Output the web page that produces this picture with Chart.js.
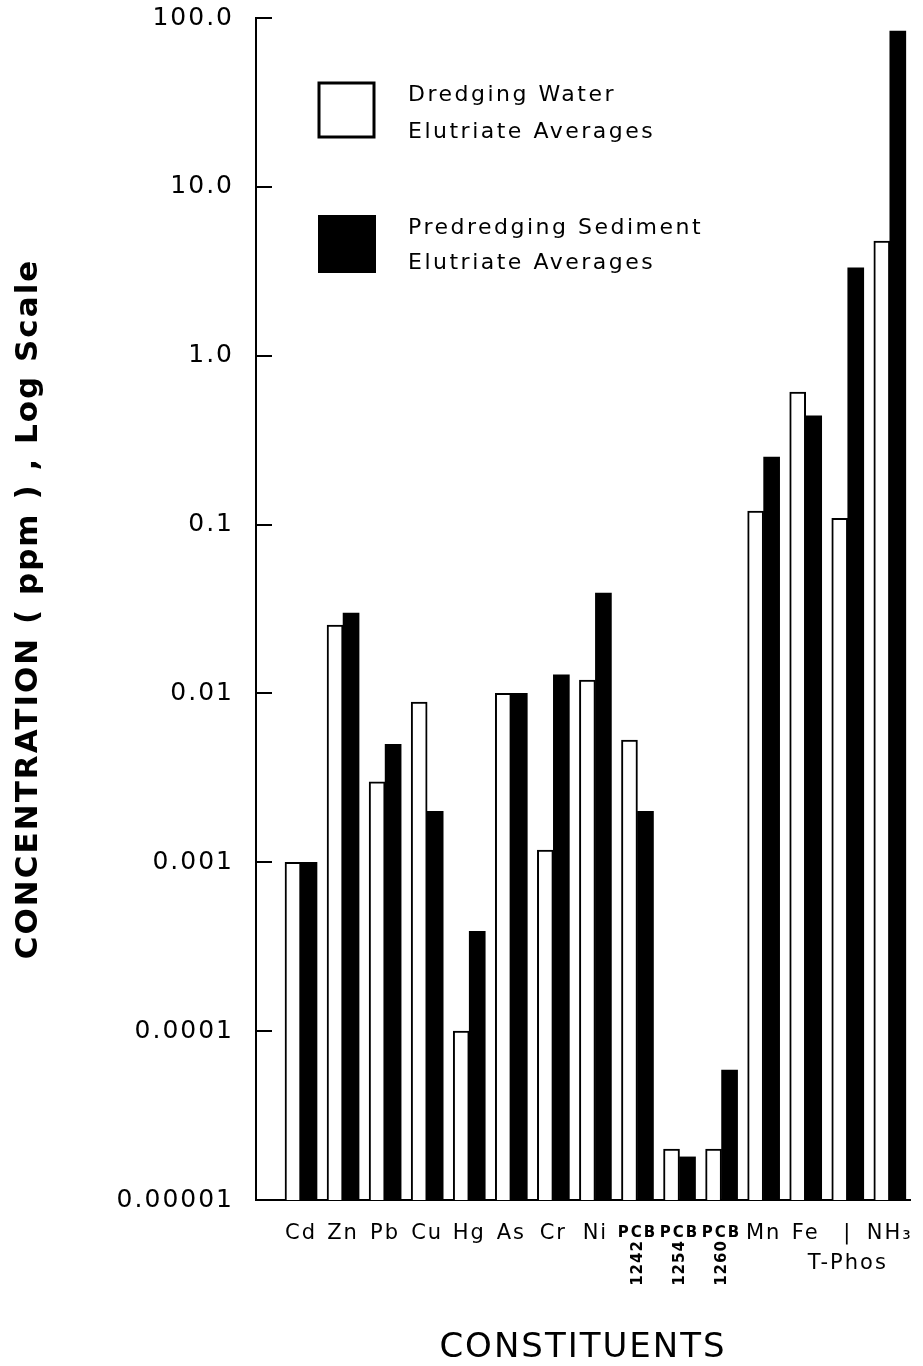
<!DOCTYPE html>
<html>
<head>
<meta charset="utf-8">
<script src="https://cdn.jsdelivr.net/npm/chart.js@4.4.1/dist/chart.umd.min.js"></script>
<style>
  html, body { margin: 0; padding: 0; background: #fff; }
  canvas { display: block; }
</style>
</head>
<body>
<canvas id="elutriateChart" width="923" height="1366"></canvas>
<script>
// constituents, left to right
const categories = ['Cd', 'Zn', 'Pb', 'Cu', 'Hg', 'As', 'Cr', 'Ni', 'PCB 1242', 'PCB 1254', 'PCB 1260', 'Mn', 'Fe', 'T-Phos', 'NH3'];
const tickLabels = [['Cd'], ['Zn'], ['Pb'], ['Cu'], ['Hg'], ['As'], ['Cr'], ['Ni'], ['PCB'], ['PCB'], ['PCB'], ['Mn'], ['Fe'], ['|', 'T-Phos'], ['NH₃']];
const pcbIndex = [8, 9, 10];
const pcbNumbers = ['1242', '1254', '1260'];

// concentrations in ppm
const dredgingWater = [0.001, 0.0254, 0.0030, 0.0089, 0.0001, 0.01, 0.00118, 0.0120, 0.0053, 0.00002, 0.00002, 0.120, 0.61, 0.109, 4.78];
const predredgingSediment = [0.001, 0.0299, 0.0050, 0.0020, 0.00039, 0.01, 0.0129, 0.0393, 0.0020, 0.000018, 0.0000589, 0.251, 0.44, 3.31, 83.7];

const yTickValues = [0.00001, 0.0001, 0.001, 0.01, 0.1, 1, 10, 100];
const yTickLabels = ['0.00001', '0.0001', '0.001', '0.01', '0.1', '1.0', '10.0', '100.0'];

const legendLines = [['Dredging Water', 'Elutriate Averages'], ['Predredging Sediment', 'Elutriate Averages']];

const FONT = '"DejaVu Sans", sans-serif';

// extra bits: letter spacing, inward ticks, PCB numbers, legend
const figureExtras = {
    id: 'figureExtras',
    beforeUpdate(chart) { chart.ctx.letterSpacing = '2px'; },
    beforeDraw(chart) { chart.ctx.letterSpacing = '2px'; },
    afterDraw(chart) {
        const ctx = chart.ctx;
        const xs = chart.scales.x;
        const ys = chart.scales.y;
        const area = chart.chartArea;
        ctx.save();
        ctx.strokeStyle = '#000';
        ctx.fillStyle = '#000';
        ctx.lineWidth = 2;
        yTickValues.forEach(v => {
            const py = Math.round(ys.getPixelForValue(v));
            ctx.beginPath();
            ctx.moveTo(area.left, py);
            ctx.lineTo(area.left + 16, py);
            ctx.stroke();
        });

        // rotated PCB numbers under the labels
        ctx.letterSpacing = '1px';
        ctx.font = 'bold 15px ' + FONT;
        ctx.textAlign = 'center';
        ctx.textBaseline = 'middle';
        pcbIndex.forEach((idx, k) => {
            ctx.save();
            ctx.translate(xs.getPixelForValue(idx) + 1, 1263);
            ctx.rotate(-Math.PI / 2);
            ctx.fillText(pcbNumbers[k], 0, 0);
            ctx.restore();
        });

        // legend
        const ds = chart.data.datasets;
        ctx.lineWidth = 3;
        ctx.strokeStyle = ds[0].borderColor;
        ctx.fillStyle = ds[0].backgroundColor;
        ctx.fillRect(319, 83, 55, 54);
        ctx.strokeRect(319, 83, 55, 54);
        ctx.fillStyle = ds[1].backgroundColor;
        ctx.fillRect(318, 215, 58, 58);

        ctx.fillStyle = '#000';
        ctx.letterSpacing = '2.5px';
        ctx.font = '22px ' + FONT;
        ctx.textAlign = 'left';
        const rows = [[95, 132], [228, 263]];
        legendLines.forEach((lines, i) => {
            lines.forEach((t, j) => ctx.fillText(t, 408, rows[i][j]));
        });
        ctx.restore();
    }
};

const ctx = document.getElementById('elutriateChart').getContext('2d');

new Chart(ctx, {
    type: 'bar',
    data: {
        datasets: [
            {
                label: 'Dredging Water Elutriate Averages',
                data: dredgingWater.map((v, i) => ({ x: i, y: v })),
                backgroundColor: '#ffffff',
                borderColor: '#000000',
                borderWidth: 2,
                barThickness: 16
            },
            {
                label: 'Predredging Sediment Elutriate Averages',
                data: predredgingSediment.map((v, i) => ({ x: i, y: v })),
                backgroundColor: '#000000',
                borderColor: '#000000',
                borderWidth: 0,
                barThickness: 16
            }
        ]
    },
    options: {
        responsive: false,
        animation: false,
        devicePixelRatio: 1,
        layout: { padding: { left: 10, top: 18, right: 13, bottom: 0 } },
        plugins: {
            legend: { display: false },
            tooltip: { enabled: false }
        },
        scales: {
            x: {
                type: 'linear',
                offset: false,
                min: -1.07,
                max: 14.48,
                afterBuildTicks: s => { s.ticks = categories.map((_, i) => ({ value: i })); },
                afterFit: s => {
                    s.height = 166;
                    s.paddingLeft = 0;
                    s.paddingRight = 0;
                },
                grid: { display: false, drawTicks: false, offset: false },
                border: { display: true, color: '#000', width: 2 },
                ticks: {
                    autoSkip: false,
                    maxRotation: 0,
                    color: '#000',
                    padding: 18,
                    font: c => pcbIndex.includes(c.index)
                        ? { family: FONT, size: 15, weight: 'bold', lineHeight: 2 }
                        : { family: FONT, size: 21, lineHeight: 1.45 },
                    callback: (v, i) => tickLabels[i]
                },
                title: {
                    display: true,
                    text: 'CONSTITUENTS',
                    color: '#000',
                    font: { family: FONT, size: 34, lineHeight: 1 },
                    padding: { top: 0, bottom: 1 }
                }
            },
            y: {
                type: 'logarithmic',
                min: 0.00001,
                max: 100,
                afterBuildTicks: s => { s.ticks = yTickValues.map(v => ({ value: v })); },
                afterFit: s => {
                    s.width = 246;
                    s.paddingTop = 0;
                    s.paddingBottom = 0;
                },
                grid: { display: false, drawTicks: false },
                border: { display: true, color: '#000', width: 2 },
                ticks: {
                    color: '#000',
                    padding: 22,
                    font: { family: FONT, size: 25 },
                    callback: (v, i) => yTickLabels[i]
                },
                title: {
                    display: true,
                    text: 'CONCENTRATION ( ppm ) , Log Scale',
                    color: '#000',
                    font: { family: FONT, size: 31, weight: 'bold' },
                    padding: { top: 0, bottom: 0 }
                }
            }
        }
    },
    plugins: [figureExtras]
});
</script>
</body>
</html>
